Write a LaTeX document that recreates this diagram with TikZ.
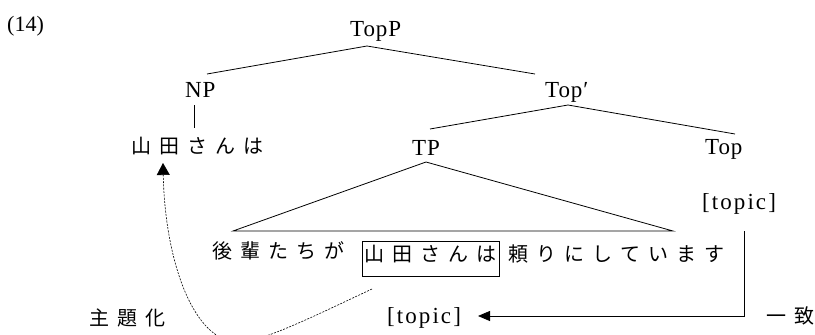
\documentclass[tikz,border=0pt]{standalone}
\usepackage{fontspec}
\setmainfont{Liberation Serif}[LetterSpace=4]
\newfontfamily\plainfont{Liberation Serif}
\newfontfamily\featfont{Liberation Serif}[LetterSpace=9]
\newfontfamily\jp{Noto Sans CJK JP}
\usetikzlibrary{arrows.meta}
\newcommand\jg{\hspace{8pt}}
\begin{document}
\begin{tikzpicture}[x=1pt,y=-1pt,
  lat/.style={font=\fontsize{23pt}{27pt}\selectfont, inner sep=0pt, anchor=base west},
  feat/.style={font=\featfont\fontsize{23pt}{27pt}\selectfont, inner sep=0pt, anchor=base west},
  plainlat/.style={font=\plainfont\fontsize{22pt}{26pt}\selectfont, inner sep=0pt, anchor=base west},
  jpn/.style={font=\jp\fontsize{20pt}{24pt}\selectfont, inner sep=0pt, anchor=west},
  tline/.style={line width=0.8pt},
  dashline/.style={line width=0.6pt, dash pattern=on 2pt off 1.3pt}]
\useasboundingbox (0,0) rectangle (815,335);
% labels
\node[plainlat] (ex) at (7,31) {(14)};
\node[lat] (topp) at (350,36) {TopP};
\node[lat] (np) at (185,97) {NP};
\node[lat] (topbar) at (545,97) {Top′};
\node[lat] (tp) at (412,155) {TP};
\node[lat] (top) at (705,154) {Top};
\node[feat] (feat1) at (702,209) {[topic]};
\node[feat] (feat2) at (387,323) {[topic]};
\node[jpn] (yamada) at (131,146) {山\jg 田\jg さ\jg ん\jg は};
\node[jpn] (kouhai) at (212,251) {後\jg 輩\jg た\jg ち\jg が};
\node[jpn, draw, line width=0.8pt, anchor=base west, text height=20.6pt, text depth=14.4pt, minimum width=137pt] (boxed) at (362,261.6) {山\jg 田\jg さ\jg ん\jg は};
\node[jpn] (tayori) at (508,254) {頼\jg り\jg に\jg し\jg て\jg い\jg ま\jg す};
\node[jpn] (shudai) at (89,318) {主\jg 題\jg 化};
\node[jpn] (itchi) at (766,316) {一\jg 致};
% tree coordinates
\coordinate (toppB) at (367,46);
\coordinate (npT) at (207,74);
\coordinate (topbarT) at (535,74);
\coordinate (topbarB) at (568,105);
\coordinate (tpT) at (430,129);
\coordinate (topT) at (735,134);
\coordinate (npB) at (194,105);
\coordinate (yamadaT) at (194,128);
\coordinate (tpB) at (426,162);
\coordinate (triL) at (233,231);
\coordinate (triR) at (673,231);
\coordinate (featB) at (744,231);
\coordinate (corner) at (744,316);
\coordinate (featTip) at (478,316);
\coordinate (curveS) at (372,289);
\coordinate (curveTip) at (163,163);
% tree
\draw[tline] (npT) -- (toppB) -- (topbarT);
\draw[tline] (tpT) -- (topbarB) -- (topT);
\draw[tline] (npB) -- (yamadaT);
\draw[tline] (triL) -- (tpB) -- (triR) -- cycle;
% agreement arrow
\draw[tline, -{Triangle[length=12pt,width=10pt]}] (featB) -- (corner) -- (featTip);
% topicalization arrow
\draw[dashline, -{Triangle[length=12pt,width=13pt]}] (curveS) .. controls (310,318) and (262,342) .. (238,342) .. controls (194,342) and (165,262) .. (curveTip);
\end{tikzpicture}
\end{document}
